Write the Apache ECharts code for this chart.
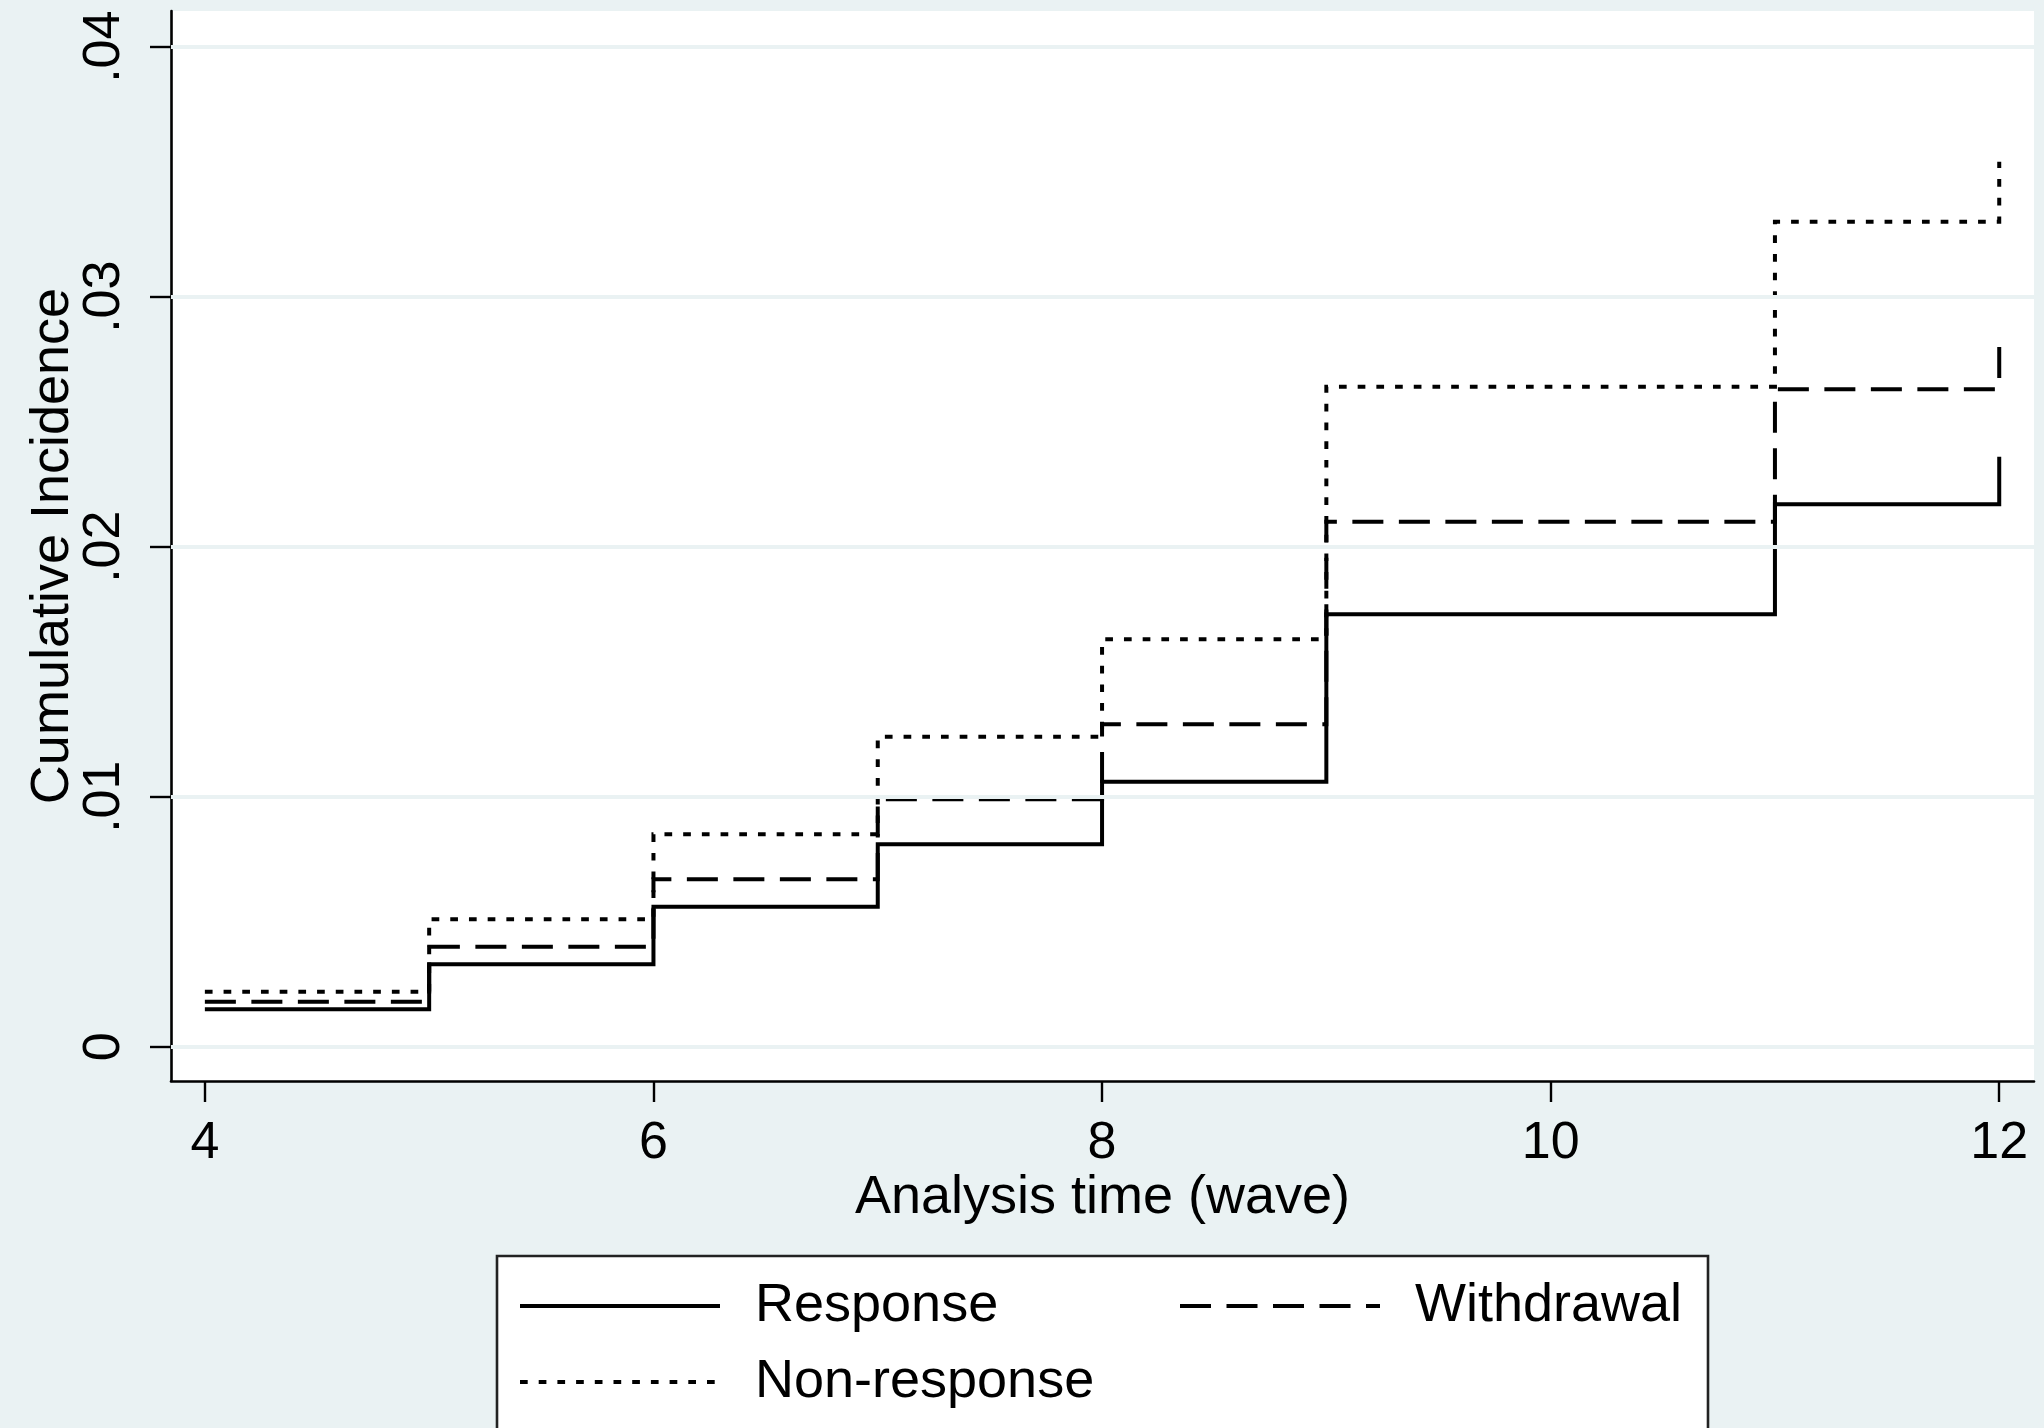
<!DOCTYPE html>
<html>
<head>
<meta charset="utf-8">
<script src="https://cdn.jsdelivr.net/npm/echarts@6/dist/echarts.min.js"></script>
<style>
html,body{margin:0;padding:0;background:#EAF2F3;}
#chart{width:2044px;height:1428px;}
</style>
</head>
<body>
<div id="chart"></div>
<script>
// ---- data ----
var waves = [4, 5, 6, 7, 8, 9, 11, 12];
var responseVals    = [0.0015, 0.0033, 0.0056, 0.0081, 0.0106, 0.0173, 0.0217, 0.0236];
var withdrawalVals  = [0.0018, 0.0040, 0.0067, 0.0099, 0.0129, 0.0210, 0.0263, 0.0284];
var nonresponseVals = [0.0022, 0.0051, 0.0085, 0.0124, 0.0163, 0.0264, 0.0330, 0.0354];
var seriesNames = ['Response', 'Withdrawal', 'Non-response'];
var xTicks = [4, 6, 8, 10, 12];
var yTicks = [0, 0.01, 0.02, 0.03, 0.04];
var yTickLabels = ['0', '.01', '.02', '.03', '.04'];

function pairs(vals){ return waves.map(function(w,i){ return [w, vals[i]]; }); }

var FONT = 'Liberation Sans, Arial, Helvetica, sans-serif';
var chart = echarts.init(document.getElementById('chart'), null, {renderer:'canvas'});

function lineSeries(name, vals, dash){
  return {
    name: name, type: 'line', step: 'end', data: pairs(vals),
    symbol: 'none', showSymbol: false, z: 3,
    lineStyle: { color: '#000', width: 4, type: dash, cap: 'butt', join: 'miter' },
    itemStyle: { color: '#000' },
    emphasis: { disabled: true }, animation: false
  };
}

var option = {
  backgroundColor: '#EAF2F3',
  animation: false,
  textStyle: { fontFamily: FONT },
  grid: {
    left: 171, top: 11, width: 1863, height: 1070,
    show: true, backgroundColor: '#ffffff', borderWidth: 0,
    containLabel: false, outerBoundsMode: 'none'
  },
  xAxis: {
    type: 'value', min: 3.849, max: 12.155,
    name: 'Analysis time (wave)', nameLocation: 'middle', nameGap: 90, nameMoveOverlap: false,
    nameTextStyle: { fontSize: 54, color: '#000', fontFamily: FONT },
    axisLine: { show: true, onZero: false, lineStyle: { color: '#000', width: 2.6 } },
    axisTick: { show: true, length: 21, lineStyle: { color: '#000', width: 2.4 }, customValues: xTicks },
    axisLabel: { show: true, fontSize: 52, color: '#000', margin: 37, fontFamily: FONT, customValues: xTicks,
                 formatter: function(v){ return String(v); } },
    splitLine: { show: false }
  },
  yAxis: {
    type: 'value', min: -0.001372, max: 0.041428,
    name: 'Cumulative Incidence', nameLocation: 'middle', nameGap: 91, nameRotate: 90, nameMoveOverlap: false,
    nameTextStyle: { fontSize: 54, color: '#000', fontFamily: FONT },
    axisLine: { show: true, onZero: false, lineStyle: { color: '#000', width: 2.6 } },
    axisTick: { show: true, length: 21, lineStyle: { color: '#000', width: 2.4 }, customValues: yTicks },
    axisLabel: { show: true, fontSize: 52, color: '#000', margin: 40, rotate: 90, fontFamily: FONT, customValues: yTicks,
                 formatter: function(v){
                   for (var i=0;i<yTicks.length;i++){ if (Math.abs(yTicks[i]-v) < 1e-9) return yTickLabels[i]; }
                   return '';
                 } },
    splitLine: { show: false }
  },
  legend: [
    { data: [seriesNames[0]], left: 518, top: 1276 },
    { data: [seriesNames[1]], left: 1178, top: 1276 },
    { data: [seriesNames[2]], left: 518, top: 1352 }
  ].map(function(l){
    l.orient = 'horizontal'; l.padding = 0; l.itemWidth = 200; l.itemHeight = 60;
    l.selectedMode = false;
    l.itemStyle = { opacity: 0, borderWidth: 0 };
    l.lineStyle = { width: 4 };
    l.textStyle = { fontSize: 54, color: '#000', fontFamily: FONT, padding: [0,0,0,30], lineHeight: 60 };
    return l;
  }),
  graphic: [
    { type: 'rect', z: -1, silent: true,
      shape: { x: 497, y: 1256, width: 1211, height: 200 },
      style: { fill: '#ffffff', stroke: '#222', lineWidth: 2.6 } }
  ],
  series: [
    {
      name: 'grid', type: 'line', data: [], z: 1, silent: true, animation: false,
      markLine: {
        silent: true, symbol: ['none','none'], animation: false, label: { show: false },
        lineStyle: { color: '#EAF2F3', width: 4, type: 'solid' },
        data: yTicks.map(function(t){ return { yAxis: t }; })
      }
    },
    lineSeries(seriesNames[0], responseVals, 'solid'),
    lineSeries(seriesNames[1], withdrawalVals, [31, 15.5]),
    lineSeries(seriesNames[2], nonresponseVals, [7.7, 11])
  ]
};
chart.setOption(option);
</script>
</body>
</html>
